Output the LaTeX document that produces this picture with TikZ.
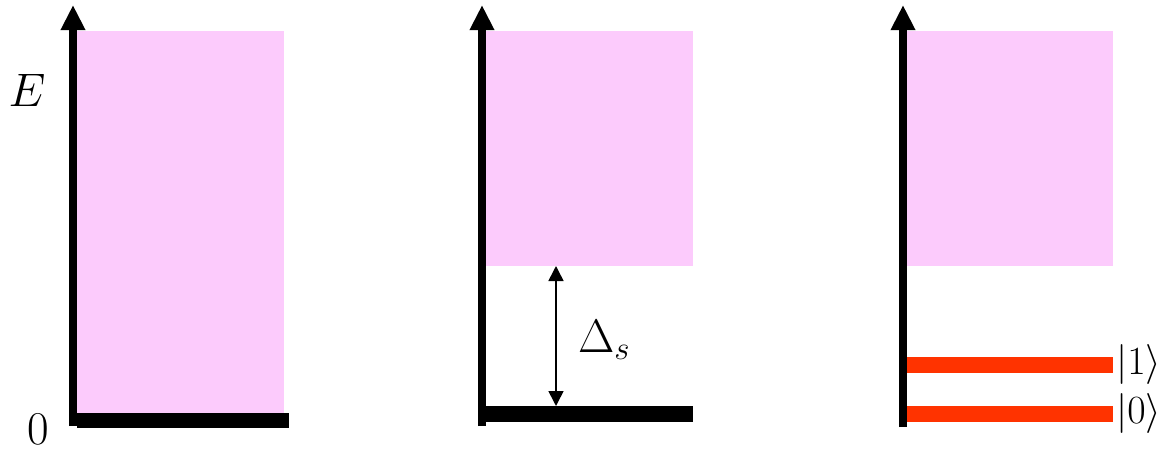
\documentclass[tikz,border=0pt]{standalone}
\usepackage{fix-cm}
\usetikzlibrary{arrows.meta}
\definecolor{band}{HTML}{FCCBFC}
\definecolor{qubit}{HTML}{FF3300}
\tikzset{
  axis/.style={line width=8pt,-{Triangle[length=25pt,width=23pt]}},
  bandbox/.style={fill=band,draw=none},
  groundbar/.style={fill=black,draw=none},
  qbar/.style={fill=qubit,draw=none},
  biglabel/.style={inner sep=0pt,font=\fontsize{47}{56}\selectfont},
  ketlabel/.style={inner sep=0pt,anchor=west,font=\fontsize{40}{48}\selectfont},
  gaparrow/.style={line width=1.6pt,{Triangle[length=15pt,width=15pt]}-{Triangle[length=15pt,width=15pt]}}
}
\begin{document}
\begin{tikzpicture}[x=1pt,y=-1pt]
\useasboundingbox (0,0) rectangle (1157,448);
% panel 1
\fill[bandbox] (77,31) rectangle (284,413);
\fill[groundbar] (77,413) rectangle (289,428);
\coordinate (a1b) at (73,426);
\coordinate (a1t) at (73,5);
\draw[axis] (a1b) -- (a1t);
\node[biglabel] (E) at (27,90) {$E$};
\node[biglabel] (zero) at (38,429) {$0$};
% panel 2
\fill[bandbox] (486,31) rectangle (693,266);
\fill[groundbar] (486,406) rectangle (693,422);
\coordinate (a2b) at (482,426);
\coordinate (a2t) at (482,5);
\draw[axis] (a2b) -- (a2t);
\coordinate (gtop) at (556,266);
\coordinate (gbot) at (556,406);
\draw[gaparrow] (gbot) -- (gtop);
\node[biglabel] (gap) at (604,340) {$\Delta_s$};
% panel 3
\fill[bandbox] (907,31) rectangle (1113,266);
\fill[qbar] (907,357) rectangle (1113,373);
\fill[qbar] (907,406) rectangle (1113,422);
\coordinate (a3b) at (903,427);
\coordinate (a3t) at (903,5);
\draw[axis] (a3b) -- (a3t);
\node[ketlabel] (k1) at (1116,364) {$|1\rangle$};
\node[ketlabel] (k0) at (1116,413) {$|0\rangle$};
\end{tikzpicture}
\end{document}
